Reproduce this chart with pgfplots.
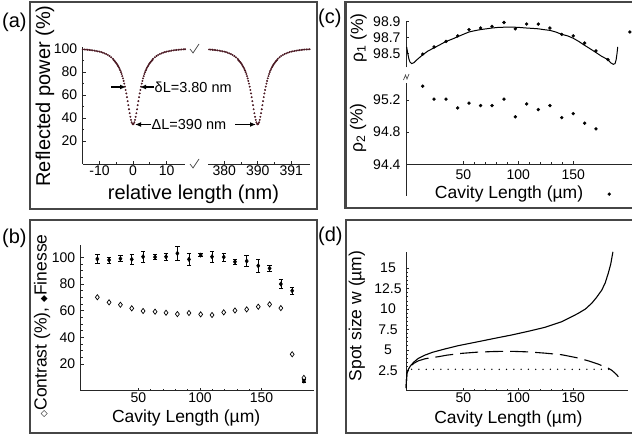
\documentclass[border=0pt]{standalone}
\usepackage{fontspec}
\setmainfont{Liberation Sans}
\newfontfamily\dejavu{DejaVu Sans}
\usepackage{pgfplots}
\pgfplotsset{compat=1.18}
\usepackage{pgfplotstable}
\usetikzlibrary{arrows.meta}
\definecolor{dipcolor}{RGB}{75,25,35}
\definecolor{framecol}{RGB}{70,70,70}

\pgfplotsset{
  panel/.style={
    scale only axis, anchor=south west,
    axis line style={-, line width=0.9pt, black!85},
    every outer x axis line/.append style={-},
    every outer y axis line/.append style={-},
    every inner x axis line/.append style={-},
    every inner y axis line/.append style={-},
    tick align=inside,
    major tick length=3pt, minor tick length=1.8pt,
    every tick/.style={black!85, line width=0.6pt},
    /pgf/number format/assume math mode=true,
    tick label style={font=\fontsize{14}{16}\selectfont},
    label style={font=\fontsize{17.5}{20}\selectfont},
    xlabel style={anchor=center},
    ylabel style={anchor=center},
    yticklabel style={xshift=-2pt},
  }
}

% ---------- data ----------
\pgfplotstableread{
x y
-15.5 99.8
-15.0 99.7
-14.5 99.6
-14.0 99.5
-13.5 99.35
-13.0 99.2
-12.5 99.0
-12.0 98.8
-11.5 98.6
-11.0 98.3
-10.5 98.0
-10.0 97.7
-9.5 97.3
-9.0 96.8
-8.5 96.2
-8.0 95.6
-7.5 94.8
-7.0 93.9
-6.5 92.8
-6.0 91.5
-5.8 90.42
-5.6 89.84
-5.4 89.20
-5.2 88.50
-5.0 87.73
-4.8 86.90
-4.6 85.99
-4.4 84.98
-4.2 83.88
-4.0 82.66
-3.8 81.32
-3.6 79.85
-3.4 78.22
-3.2 76.42
-3.0 74.44
-2.8 72.26
-2.6 69.87
-2.4 67.25
-2.2 64.41
-2.0 61.34
-1.8 58.08
-1.6 54.65
-1.4 51.13
-1.2 47.60
-1.0 44.19
-0.8 41.05
-0.6 38.35
-0.4 36.27
-0.2 34.95
0.0 34.50
0.2 34.95
0.4 36.27
0.6 38.35
0.8 41.05
1.0 44.19
1.2 47.60
1.4 51.13
1.6 54.65
1.8 58.08
2.0 61.34
2.2 64.41
2.4 67.25
2.6 69.87
2.8 72.26
3.0 74.44
3.2 76.42
3.4 78.22
3.6 79.85
3.8 81.32
4.0 82.66
4.2 83.88
4.4 84.98
4.6 85.99
4.8 86.90
5.0 87.73
5.2 88.50
5.4 89.20
5.6 89.84
5.8 90.42
6.0 91.5
6.5 92.8
7.0 93.9
7.5 94.8
8.0 95.6
8.5 96.2
9.0 96.8
9.5 97.3
10.0 97.7
10.5 98.0
11.0 98.3
11.5 98.6
12.0 98.8
12.5 99.0
13.0 99.2
13.5 99.35
14.0 99.5
14.5 99.6
15.0 99.7
15.5 99.8
16.0 99.85
}\dipdata

\pgfplotstableread{
x f e c
16.8 98.7 3.5 70.0
26.3 97.9 2.2 66.2
35.5 98.9 2.2 64.4
44.7 98.4 3.7 61.7
53.9 100.4 4.2 59.7
63.6 100.1 2.0 59.2
72.5 100.4 2.5 58.4
81.7 102.9 5.5 57.4
91.1 98.4 4.5 58.2
100.6 101.6 1.0 57.2
109.8 100.4 4.2 56.7
119.3 100.1 3.0 58.7
128.4 96.6 2.0 60.1
137.9 97.1 4.0 60.9
147.3 93.6 4.7 62.9
156.5 91.7 2.0 64.7
165.6 79.9 3.2 61.9
174.8 74.9 2.5 27.3
184.3 7.2 1.0 9.6
}\bdata

\pgfplotstableread{
x r
13.1 98.49
23.4 98.58
34.3 98.65
44.9 98.72
55.2 98.80
65.7 98.82
76.1 98.84
87.0 98.89
97.3 98.81
107.6 98.87
118.2 98.87
128.8 98.82
139.5 98.74
150.0 98.72
160.4 98.63
170.6 98.53
181.5 98.42
201.5 98.77
}\rhoone

\pgfplotstableread{
x r
13.1 95.37
23.4 95.21
34.3 95.21
44.9 95.10
55.2 95.16
65.7 95.13
76.1 95.13
87.0 95.21
97.3 94.99
107.6 95.15
118.2 95.08
128.8 95.13
139.5 94.98
150.0 95.03
160.4 94.91
170.6 94.84
182.7 94.03
}\rhotwo

\begin{document}
\begin{tikzpicture}
\useasboundingbox (0,0) rectangle (632pt,437pt);

% panel frames
\draw[line width=2.6pt, framecol] (30pt,228pt) rectangle (317pt,435pt);
\draw[line width=2.6pt, framecol] (30pt,4pt) rectangle (317pt,217pt);
\draw[line width=2.6pt, framecol] (345.5pt,229pt) rectangle (640pt,435pt);
\draw[line width=2.6pt, framecol] (346pt,4pt) rectangle (640pt,217pt);

% panel letters
\node[anchor=west, inner sep=0pt, font=\fontsize{20}{22}\selectfont] at (2pt,415pt) {(a)};
\node[anchor=west, inner sep=0pt, font=\fontsize{20}{22}\selectfont] at (2pt,199pt) {(b)};
\node[anchor=west, inner sep=0pt, font=\fontsize{20}{22}\selectfont] at (318pt,419pt) {(c)};
\node[anchor=west, inner sep=0pt, font=\fontsize{20}{22}\selectfont] at (318pt,201pt) {(d)};

% ---------- (a) left ----------
\begin{axis}[axis lines=left, panel,
  at={(82.7pt,273pt)}, width=102.3pt, height=117.3pt,
  xmin=-15, xmax=15.5, ymin=0, ymax=102,
  xtick={-10,0,10}, ytick={20,40,60,80,100},
  minor x tick num=1, minor y tick num=1,
  xticklabel style={yshift=1.5pt},
  label style={font=\fontsize{20}{22}\selectfont},
  xlabel={relative length (nm)}, ylabel={Reflected power (\%)},
  xlabel style={at={(axis description cs:1.083,-0.26)}},
  ylabel style={at={(axis description cs:-0.369,0.58)}}]
\addplot[only marks, mark=*, mark size=0.75pt, dipcolor] table[x=x,y=y] {\dipdata};
\end{axis}

% ---------- (a) right ----------
\begin{axis}[axis x line=bottom, axis y line=none, panel,
  at={(208.3pt,273pt)}, width=101.7pt, height=117.3pt,
  xmin=-14.75, xmax=15.6, ymin=0, ymax=102,
  xticklabel style={yshift=1.5pt},
  xtick={-10,0,10}, xticklabels={380,390,391}, minor x tick num=1]
\addplot[only marks, mark=*, mark size=0.75pt, dipcolor] table[x=x,y=y] {\dipdata};
\end{axis}

% (a) annotations
\draw[line width=1.2pt, -{Latex[length=6pt,width=5pt]}] (111pt,350pt) -- (126pt,350pt);
\draw[line width=1.2pt, -{Latex[length=6pt,width=5pt]}] (154pt,350pt) -- (140pt,350pt);
\node[anchor=west, inner sep=0.5pt, font=\fontsize{14.5}{16}\selectfont] at (154pt,350pt) {δL=3.80 nm};
\draw[line width=1.2pt, -{Latex[length=6pt,width=5pt]}] (151pt,312.5pt) -- (135pt,312.5pt);
\node[anchor=west, inner sep=0.5pt, font=\fontsize{14.5}{16}\selectfont] at (151pt,312.5pt) {ΔL=390 nm};
\draw[line width=1.2pt, -{Latex[length=6pt,width=5pt]}] (235pt,312.5pt) -- (256pt,312.5pt);
% axis break marks
\draw[black!70, line width=0.7pt] (190pt,388pt) -- (193pt,384pt) -- (199pt,393pt);
\draw[black!70, line width=0.7pt] (190pt,273pt) -- (193pt,269pt) -- (199pt,278pt);

% ---------- (b) ----------
\begin{axis}[axis lines=left, panel, clip=false,
  at={(80.7pt,46.3pt)}, width=233.3pt, height=145.5pt,
  xmin=3.3, xmax=192.5, ymin=0, ymax=109,
  xtick={50,100,150}, ytick={20,40,60,80,100},
  minor x tick num=4, minor y tick num=3,
  xticklabel style={yshift=2pt},
  xlabel={Cavity Length (µm)},
  ylabel={{\dejavu\fontsize{9}{9}\selectfont ◇}Contrast (\%), {\dejavu\fontsize{9}{9}\selectfont ◆}Finesse},
  xlabel style={at={(axis description cs:0.452,-0.19)}},
  ylabel style={at={(axis description cs:-0.166,0.445)}}]
\addplot[only marks, mark=diamond*, mark size=2.2pt, black,
  error bars/.cd, y dir=both, y explicit,
  error bar style={line width=0.6pt, black},
  error mark options={rotate=90, mark size=2.2pt, line width=0.6pt}]
  table[x=x, y=f, y error=e] {\bdata};
\addplot[only marks, mark=diamond, mark size=2.6pt, black, mark options={line width=0.7pt, fill=white}]
  table[x=x, y=c] {\bdata};
\end{axis}

% ---------- (c) top ----------
\begin{axis}[axis y line=left, axis x line=none, panel, clip=false,
  at={(406pt,369.5pt)}, width=226pt, height=45.8pt,
  xmin=-2.1, xmax=203.4, ymin=98.32, ymax=98.9,
  ytick={98.5,98.7,98.9},
  ylabel={ρ\textsubscript{1} (\%)},
  ylabel style={at={(axis description cs:-0.21,0.644)}}]
\addplot[black, line width=1pt] coordinates {
(-1.5,98.58) (-0.5,98.50) (0.5,98.43) (1.5,98.39) (3,98.37) (5,98.38) (8,98.42)
(13,98.48) (18,98.53) (23.6,98.57) (29,98.61) (34.3,98.65) (40,98.68) (44.9,98.71)
(50,98.74) (55.2,98.77) (60,98.785) (65.7,98.80) (71,98.81) (76.1,98.82) (82,98.828)
(87,98.83) (92,98.83) (97.3,98.83) (102,98.826) (107.6,98.82) (113,98.815) (118.2,98.81)
(123,98.80) (128.8,98.79) (134,98.77) (139.5,98.74) (145,98.72) (150,98.69) (155,98.65)
(160.4,98.60) (165,98.56) (170.6,98.51) (176,98.46) (181.5,98.42) (184,98.38) (186.4,98.36)
(188,98.37) (189,98.42) (189.8,98.50) (190.4,98.58)};
\addplot[only marks, mark=*, mark size=1.5pt, black] table[x=x,y=r] {\rhoone};
\end{axis}

% (c) y-axis break mark
\draw[black!70, line width=0.7pt] (403.5pt,357pt) -- (405.5pt,362pt) -- (407pt,358pt) -- (409pt,363pt);

% ---------- (c) bottom ----------
\begin{axis}[axis lines=left, panel, clip=false,
  at={(406pt,272.7pt)}, width=226pt, height=81.3pt,
  xmin=-2.1, xmax=203.4, ymin=94.4, ymax=95.41,
  xtick={50,100,150}, ytick={94.4,94.8,95.2},
  minor x tick num=4,
  xticklabel style={yshift=-1.5pt},
  xlabel={Cavity Length (µm)}, ylabel={ρ\textsubscript{2} (\%)},
  xlabel style={at={(axis description cs:0.456,-0.36)}},
  ylabel style={at={(axis description cs:-0.212,0.446)}}]
\addplot[only marks, mark=*, mark size=1.5pt, black] table[x=x,y=r] {\rhotwo};
\draw[line width=0.9pt, black!85] (axis cs:-2.1,94.4) -- (axis cs:-2.1,94.0);
\end{axis}

% ---------- (d) ----------
\begin{axis}[axis lines=left, panel, clip=false,
  at={(406pt,46.3pt)}, width=222pt, height=138.9pt,
  xmin=-2.1, xmax=199.7, ymin=0, ymax=17,
  xtick={50,100,150}, ytick={2.5,5,7.5,10,12.5,15},
  minor x tick num=4, minor y tick num=4,
  xticklabel style={yshift=2pt},
  yticklabel style={anchor=center, xshift=-16pt},
  xlabel={Cavity Length (µm)}, ylabel={Spot size w (µm)},
  xlabel style={at={(axis description cs:0.461,-0.205)}},
  ylabel style={at={(axis description cs:-0.221,0.538)}}]
\addplot[black, line width=1.1pt] coordinates {
(-2,0.3) (-1.7,1.2) (-1.3,2.1) (0,2.6) (2,3.05) (5,3.5) (9,3.95) (15,4.35) (22,4.7)
(33,5.1) (45,5.5) (63.6,6.0) (80,6.45) (94,6.82) (110,7.3) (124.3,7.76) (139.5,8.45)
(147,8.95) (154.5,9.47) (161,10.0) (166.7,10.7) (171,11.4) (175.8,12.3) (179,13.2)
(181.8,14.4) (184,15.5) (186,17.0)};
\addplot[black, line width=1.1pt, dash pattern=on 18pt off 7pt] coordinates {
(-2,0.3) (-1.7,1.2) (-1.3,2.1) (0,2.6) (2,2.95) (5,3.35) (9,3.65) (15,3.9) (21,4.05)
(27.3,4.16) (35,4.35) (48.5,4.57) (63,4.72) (78.8,4.8) (94,4.82) (109,4.75) (124,4.6)
(139.5,4.4) (154.5,4.0) (165,3.6) (172.7,3.25) (178,2.95) (181.8,2.75) (184.9,2.5)
(187.5,2.2) (189.5,1.95) (190.9,1.7)};
\addplot[black, line width=1.5pt, line cap=round, dash pattern=on 0pt off 7.3pt] coordinates {
(3,2.62) (188,2.62)};
\end{axis}

\end{tikzpicture}
\end{document}
